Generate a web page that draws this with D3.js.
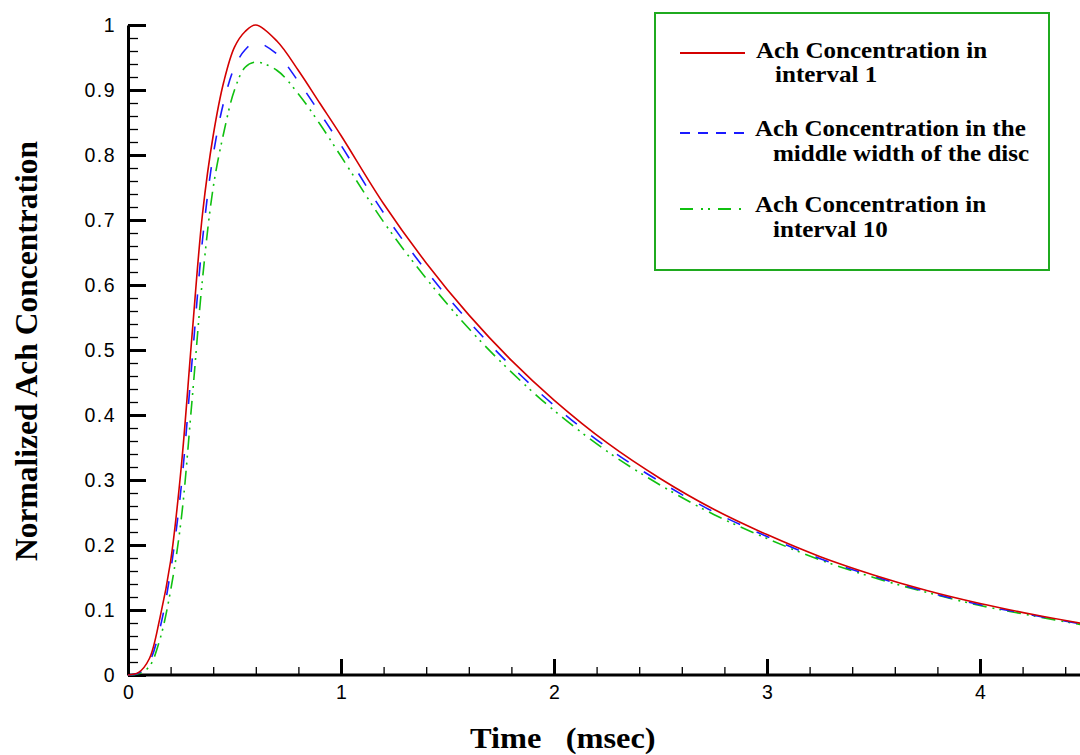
<!DOCTYPE html>
<html>
<head>
<meta charset="utf-8">
<script src="https://cdn.jsdelivr.net/npm/d3@7"></script>
<style>
  body { margin: 0; background: #fff; }
</style>
</head>
<body>
<script>
// time in msec
const timeValues = [0, 0.05, 0.1, 0.15, 0.2, 0.25, 0.3, 0.35, 0.4, 0.45, 0.5, 0.55, 0.6, 0.7, 0.8, 0.9, 1.0,
    1.2, 1.4, 1.6, 1.8, 2.0, 2.25, 2.5, 2.75, 3.0, 3.25, 3.5, 3.75, 4.0, 4.25, 4.5];

const interval1Values = [0, 0.004, 0.025, 0.088, 0.175, 0.32, 0.52, 0.71, 0.83, 0.913, 0.966, 0.99, 1.0, 0.975, 0.93, 0.88, 0.83,
    0.725, 0.634, 0.554, 0.484, 0.423, 0.357, 0.302, 0.255, 0.216, 0.182, 0.154, 0.130, 0.110, 0.093, 0.078];

const middleValues = [0, 0.003, 0.02, 0.072, 0.16, 0.29, 0.48, 0.67, 0.8, 0.882, 0.935, 0.962, 0.973, 0.955, 0.913, 0.865, 0.815,
    0.711, 0.622, 0.544, 0.475, 0.415, 0.350, 0.297, 0.251, 0.213, 0.179, 0.152, 0.128, 0.108, 0.092, 0.077];

const interval10Values = [0, 0.002, 0.013, 0.055, 0.13, 0.24, 0.42, 0.61, 0.75, 0.835, 0.9, 0.935, 0.943, 0.93, 0.894, 0.848, 0.798,
    0.697, 0.610, 0.533, 0.466, 0.407, 0.344, 0.292, 0.247, 0.210, 0.177, 0.150, 0.127, 0.107, 0.091, 0.076];

const seriesNames = ["Ach Concentration in|interval 1",
    "Ach Concentration in the|middle width of the disc",
    "Ach Concentration in|interval 10"];

const xTickLabels = [0, 1, 2, 3, 4];
const yTickLabels = [0, 0.1, 0.2, 0.3, 0.4, 0.5, 0.6, 0.7, 0.8, 0.9, 1];

function main(){
    const canvasWidth = 1080;
    const canvasHeight = 755;
    const serif = "Liberation Serif, Times New Roman, serif";
    const sans = "Liberation Sans, Arial, sans-serif";

    const svg = d3.select("body").append("svg")
        .attr("width", canvasWidth)
        .attr("height", canvasHeight)

    const x = d3.scaleLinear().domain([0, 4.5]).range([128, 128 + 4.5 * 213]);
    const y = d3.scaleLinear().domain([0, 1]).range([675, 25]);

    // minor ticks first
    svg.append("g")
        .attr("transform", "translate(0,675)")
        .call(d3.axisBottom(x).tickValues(d3.range(0, 4.61, 0.2)).tickSize(-8).tickFormat(""))
        .call(g => g.select(".domain").remove())
        .selectAll("line").attr("stroke-width", 1.3);

    svg.append("g")
        .attr("transform", "translate(128,0)")
        .call(d3.axisLeft(y).tickValues(d3.range(0, 1.001, 0.02)).tickSize(-10).tickFormat(""))
        .call(g => g.select(".domain").remove())
        .selectAll("line").attr("stroke-width", 1.3);

    //major ticks + labels
    const xAxis = svg.append("g")
        .attr("transform", "translate(0,675)")
        .call(d3.axisBottom(x).tickValues(xTickLabels).tickSizeInner(-16).tickSizeOuter(0).tickPadding(10).tickFormat(d3.format("d")));
    xAxis.select(".domain").attr("stroke-width", 3).attr("d", "M128,0H1080");
    xAxis.selectAll("line").attr("stroke-width", 3);
    xAxis.selectAll("text").attr("font-family", sans).attr("font-size", "19.5px").attr("fill", "#000");

    const yAxis = svg.append("g")
        .attr("transform", "translate(128,0)")
        .call(d3.axisLeft(y).tickValues(yTickLabels).tickSizeInner(-18).tickSizeOuter(0).tickPadding(12).tickFormat(d => d));
    yAxis.select(".domain").attr("stroke-width", 3);
    yAxis.selectAll("line").attr("stroke-width", 3);
    yAxis.selectAll("text").attr("font-family", sans).attr("font-size", "19.5px")
        .attr("letter-spacing", "1.5px").attr("fill", "#000");

    // curves
    const series = [
        {values: interval1Values, color: "#d40000", dash: null},
        {values: middleValues, color: "#1a1aff", dash: "14,18"},
        {values: interval10Values, color: "#10c010", dash: "14,6,2,5,2,6"}
    ];

    const line = d3.line()
        .x((d, i) => x(timeValues[i]))
        .y(d => y(d))
        .curve(d3.curveCatmullRom.alpha(0.5));

    svg.append("clipPath").attr("id", "plotclip")
        .append("rect").attr("x", 128).attr("y", 0).attr("width", 960).attr("height", 676);

    const plot = svg.append("g").attr("clip-path", "url(#plotclip)");
    series.slice().reverse().forEach(s => {
        plot.append("path")
            .datum(s.values)
            .attr("fill", "none")
            .attr("stroke", s.color)
            .attr("stroke-width", 1.6)
            .attr("stroke-dasharray", s.dash)
            .attr("d", line);
    });

    // legend
    const legend = svg.append("g");
    legend.append("rect")
        .attr("x", 655).attr("y", 13)
        .attr("width", 394).attr("height", 257)
        .attr("fill", "#fff")
        .attr("stroke", "#1faa1f")
        .attr("stroke-width", 2);

    const rowY = [53, 133, 209];
    const textX = [[756, 775], [755, 773], [755, 773]];
    const textY = [[58, 82], [136, 161], [212, 237]];
    series.forEach((s, i) => {
        legend.append("line")
            .attr("x1", 680).attr("x2", 745)
            .attr("y1", rowY[i]).attr("y2", rowY[i])
            .attr("stroke", s.color)
            .attr("stroke-width", 2)
            .attr("stroke-dasharray", i == 1 ? "10,8" : (i == 2 ? "13,8,2,5,2,8" : null));
        seriesNames[i].split("|").forEach((t, j) => {
            legend.append("text")
                .attr("transform", "translate(" + textX[i][j] + "," + textY[i][j] + ") scale(1.09,1)")
                .attr("font-family", serif)
                .attr("font-weight", "bold")
                .attr("font-size", "23px")
                .text(t);
        });
    });

    //axis titles
    svg.append("text")
        .attr("transform", "translate(37,351) rotate(-90)")
        .attr("text-anchor", "middle")
        .attr("font-family", serif)
        .attr("font-weight", "bold")
        .attr("font-size", "31.5px")
        .text("Normalized Ach Concentration");

    svg.append("text")
        .attr("transform", "translate(470,748) scale(1.08,1)")
        .attr("font-family", serif)
        .attr("font-weight", "bold")
        .attr("font-size", "30px")
        .style("white-space", "pre")
        .text("Time   (msec)");
}
main();
</script>
</body>
</html>
